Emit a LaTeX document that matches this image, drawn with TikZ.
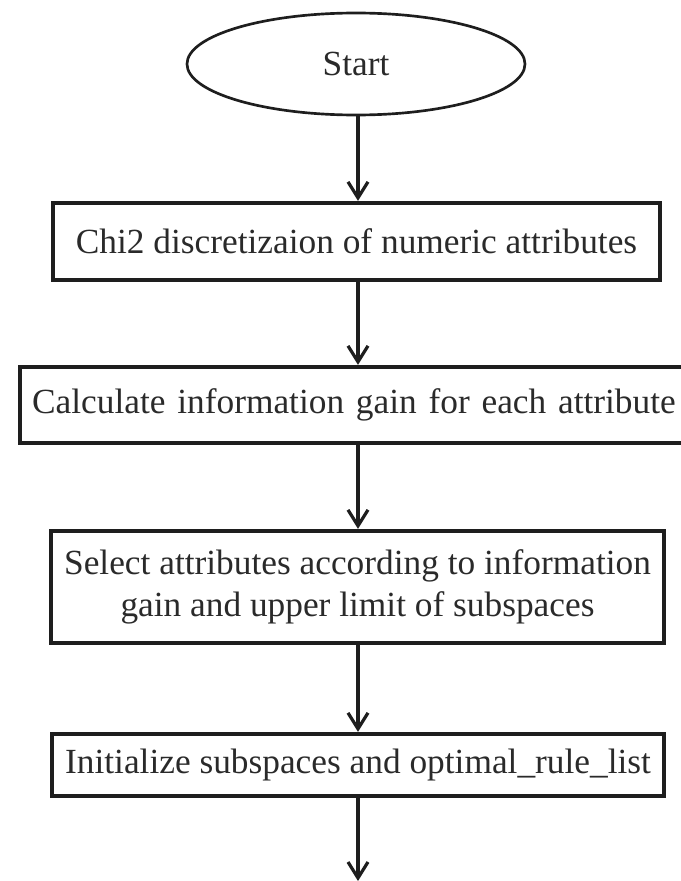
\documentclass[tikz,border=0pt]{standalone}
\usepackage{fontspec}
\setmainfont{Liberation Serif}
\usepackage{tikz}
\usetikzlibrary{shapes.geometric,arrows.meta}
\definecolor{inkline}{HTML}{1E1E1E}
\definecolor{inktext}{HTML}{2A2A2A}

\begin{document}
\begin{tikzpicture}[x=0.75pt, y=-0.75pt,
    startshape/.style={ellipse, draw=inkline, line width=2pt, inner sep=0pt,
        minimum width=253.5pt, minimum height=76.5pt, text=inktext},
    procbox/.style={rectangle, draw=inkline, line width=3.2pt, inner sep=0pt,
        align=center, text=inktext},
    flowarrow/.style={draw=inkline, line width=2.6pt,
        -{Straight Barb[length=12pt, width=15pt, line width=2.4pt]}}]
    \useasboundingbox (0,0) rectangle (681,881);
    \fontsize{26.5}{31}\selectfont
    % boxes, top to bottom
    \node[startshape] (start) at (356,64) {Start};
    \node[procbox, minimum width=455pt, minimum height=57.75pt] (chi) at (356.5,241.5)
        {Chi2 discretizaion of numeric attributes};
    % this one runs off the right edge
    \node[procbox, anchor=west, inner xsep=9pt, text width=486pt, align=left,
        minimum height=57pt] (gain) at (18,405)
        {Calculate information gain for each attribute};
    \node[procbox, minimum width=459.75pt, minimum height=84pt] (select) at (357.5,587)
        {Select attributes according to information\\gain and upper limit of subspaces};
    \node[procbox, minimum width=459pt, minimum height=46.5pt] (init) at (358,765)
        {Initialize subspaces and optimal\_rule\_list};
    \coordinate (next) at (358,881);
    % arrows
    \draw[flowarrow] (start.south -| init) -- (chi.north -| init);
    \draw[flowarrow] (chi.south -| init) -- (gain.north -| init);
    \draw[flowarrow] (gain.south -| init) -- (select.north -| init);
    \draw[flowarrow] (select.south -| init) -- (init.north);
    \draw[flowarrow] (init.south) -- (next);
\end{tikzpicture}
\end{document}
